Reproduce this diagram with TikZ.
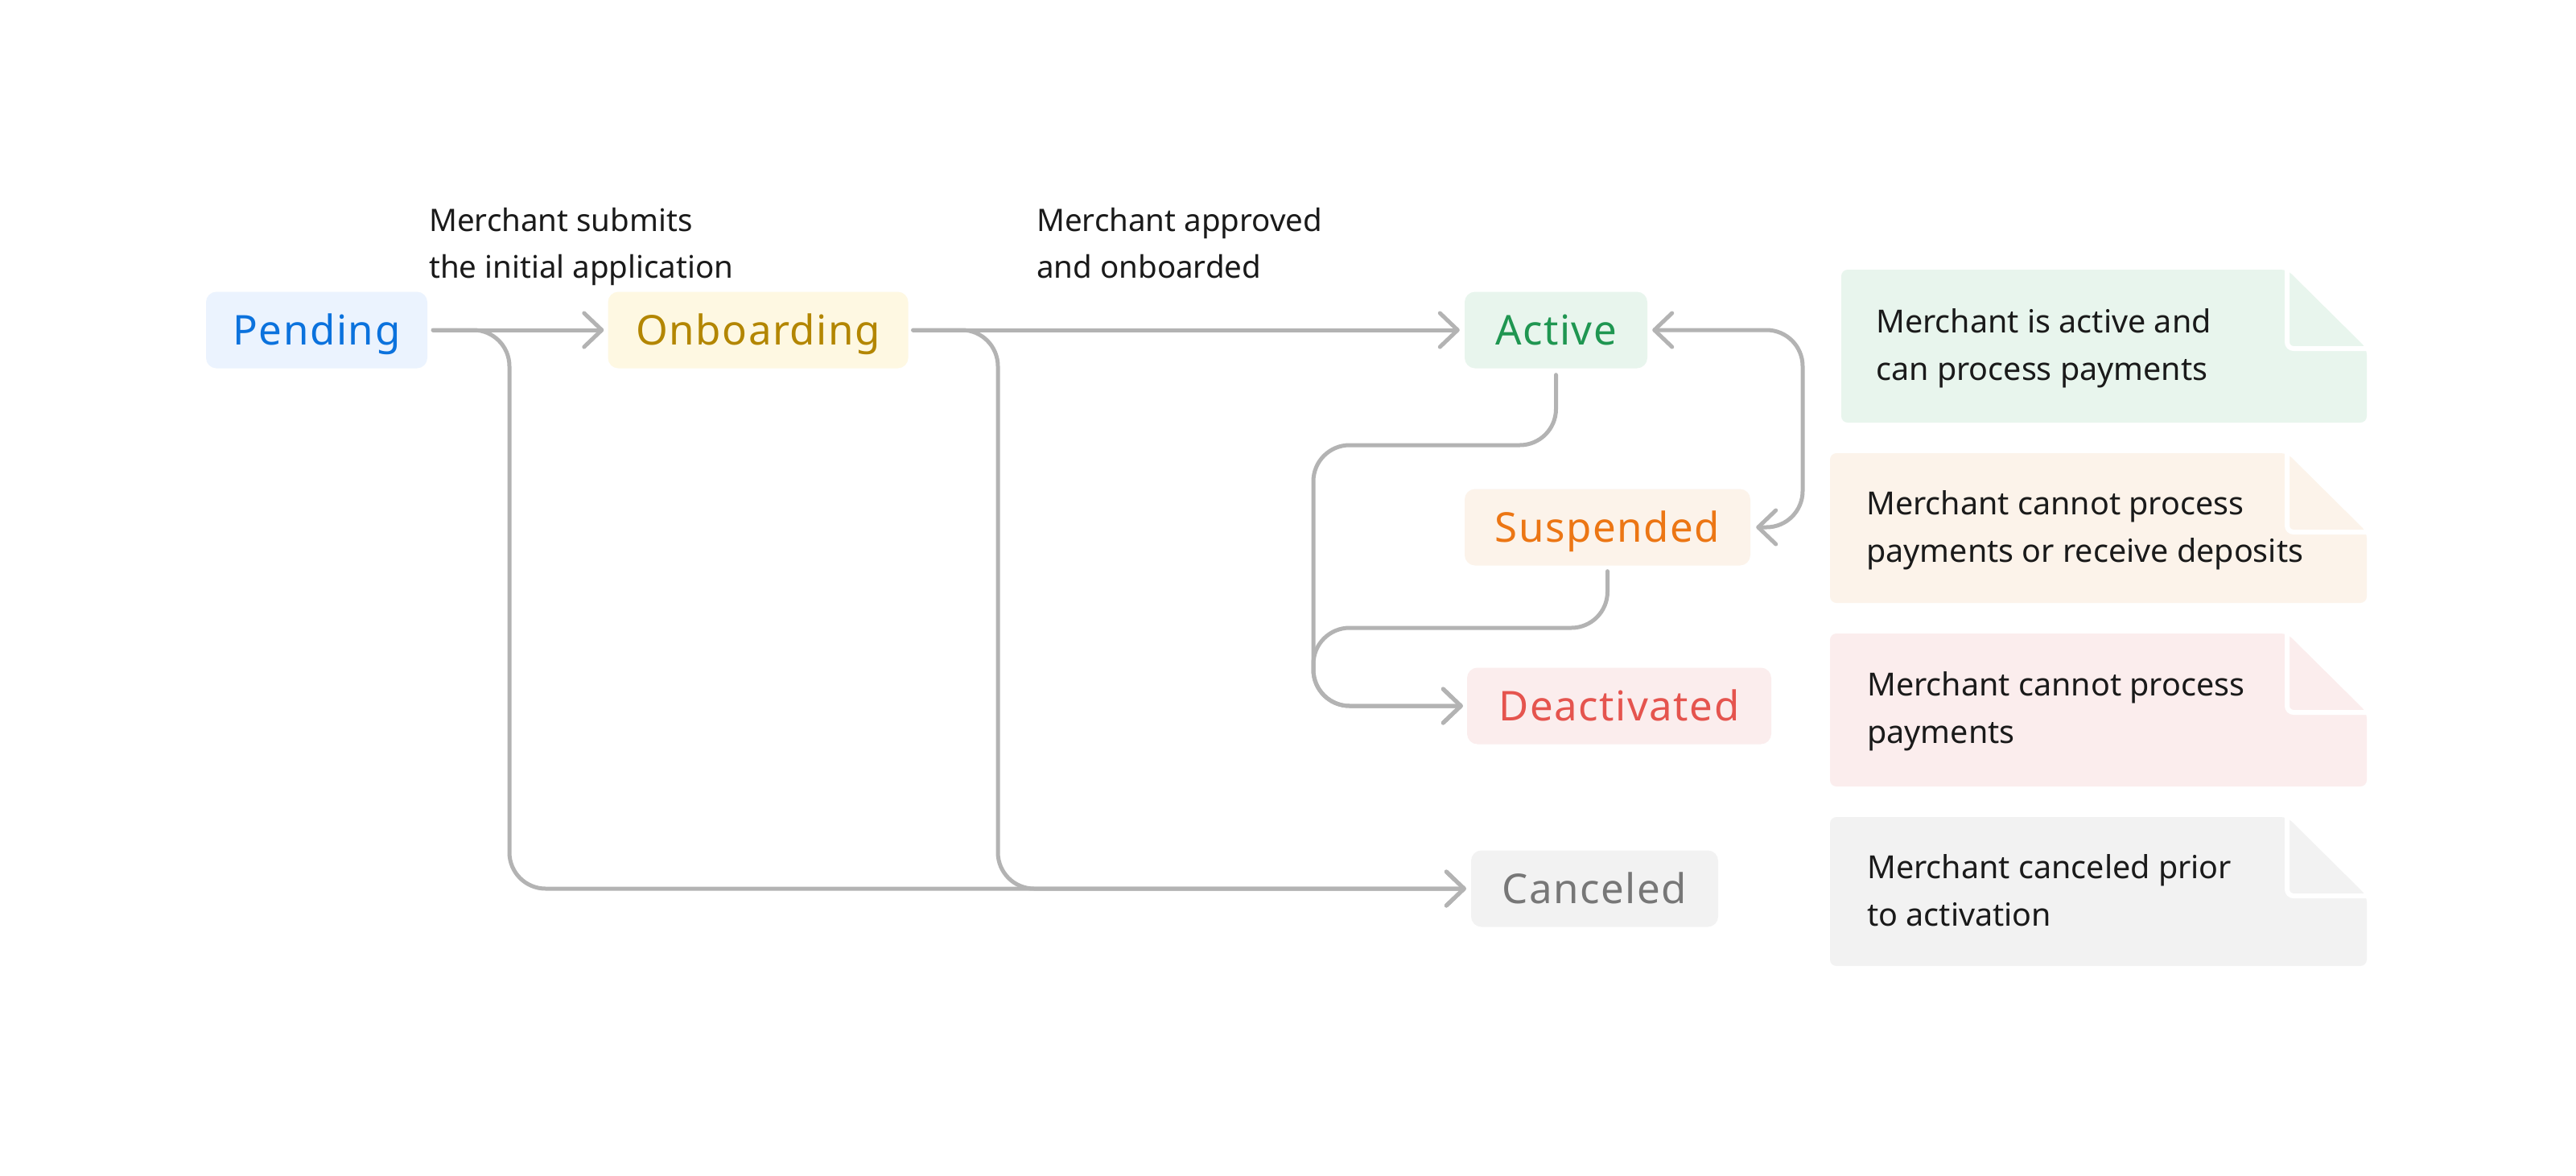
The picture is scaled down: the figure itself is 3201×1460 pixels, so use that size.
\documentclass[tikz,border=0pt]{standalone}
\usepackage{fontspec}
\setmainfont{Noto Sans}
\newfontfamily\statefont[LetterSpace=3]{Noto Sans}
\usetikzlibrary{arrows.meta}
\definecolor{linegray}{HTML}{B3B3B3}
\definecolor{ink}{HTML}{1A1A1A}
\definecolor{pendFill}{HTML}{EBF3FE}
\definecolor{pendText}{HTML}{0B72DD}
\definecolor{onbFill}{HTML}{FEF8E2}
\definecolor{onbText}{HTML}{B38600}
\definecolor{actFill}{HTML}{E8F5ED}
\definecolor{actText}{HTML}{1F9651}
\definecolor{susFill}{HTML}{FCF3EA}
\definecolor{susText}{HTML}{EC7614}
\definecolor{deaFill}{HTML}{FBEDED}
\definecolor{deaText}{HTML}{E5544E}
\definecolor{canFill}{HTML}{F2F2F2}
\definecolor{canText}{HTML}{777777}
\newcommand\drawnote[5]{%
  \fill[#5, rounded corners=8pt] (#1,#2) -- (#3-99,#2) -- (#3,#2+98) -- (#3,#4) -- (#1,#4) -- cycle;
  \draw[white, line width=6pt, rounded corners=8pt] (#3-99,#2-6) -- (#3-99,#2+98) -- (#3+6,#2+98);
}
\begin{document}
\begin{tikzpicture}[x=1pt,y=-1pt,
  state/.style={rounded corners=13pt, minimum height=95pt, inner sep=0pt,
    text height=36pt, text depth=0pt, font=\statefont\fontsize{51}{60}\selectfont},
  lbl/.style={anchor=base west, align=left, inner sep=0pt, text=ink,
    font=\fontsize{38.5}{58}\selectfont},
  notetext/.style={anchor=base west, align=left, inner sep=0pt, text=ink,
    font=\fontsize{39.5}{59}\selectfont},
  conn/.style={draw=linegray, line width=5pt, line cap=round, line join=round,
    rounded corners=45pt},
  arr/.style={-{Straight Barb[length=22pt,width=42pt,line width=5pt,round]}},
  biarr/.style={{Straight Barb[length=22pt,width=42pt,line width=5pt,round]}-{Straight Barb[length=22pt,width=42pt,line width=5pt,round]}}
]
\useasboundingbox (0,0) rectangle (3201,1460);
\fill[white] (0,0) rectangle (3201,1460);

% state nodes
\node[state, fill=pendFill, text=pendText, minimum width=275pt] (pending) at (393.5,410) {Pending};
\node[state, fill=onbFill, text=onbText, minimum width=373pt] (onboarding) at (942,410) {Onboarding};
\node[state, fill=actFill, text=actText, minimum width=227pt] (active) at (1933.5,410) {Active};
\node[state, fill=susFill, text=susText, minimum width=355pt] (suspended) at (1997.5,655) {Suspended};
\node[state, fill=deaFill, text=deaText, minimum width=378pt] (deactivated) at (2012,877) {Deactivated};
\node[state, fill=canFill, text=canText, minimum width=307pt] (canceled) at (1981.5,1104) {Canceled};

% transition labels (base anchor = baseline of the last line)
\node[lbl] (lsubmit) at (533,345) {Merchant submits\\the initial application};
\node[lbl] (lapprove) at (1288,345) {Merchant approved\\and onboarded};

% routing coordinates
\coordinate (vP) at (633,0);
\coordinate (vO) at (1240,0);
\coordinate (vD) at (1632,0);
\coordinate (vR) at (2240,0);
\coordinate (hA) at (0,553);
\coordinate (hS) at (0,780);

% connectors
\draw[conn, arr] ([xshift=7pt]pending.east) -- ([xshift=-5pt]onboarding.west);
\draw[conn, arr] ([xshift=7pt]pending.east) -- (pending.east -| vP) -- (canceled.west -| vP) -- ([xshift=-6pt]canceled.west);
\draw[conn, arr] ([xshift=6pt]onboarding.east) -- ([xshift=-6pt]active.west);
\draw[conn, arr] ([xshift=6pt]onboarding.east) -- (onboarding.east -| vO) -- (canceled.west -| vO) -- ([xshift=-6pt]canceled.west);
\draw[conn, arr] ([yshift=-8pt]active.south) -- (active.south |- hA) -- (vD |- hA) -- (vD |- deactivated.west) -- ([xshift=-5pt]deactivated.west);
\draw[conn, arr] ([yshift=-7pt]suspended.south) -- (suspended.south |- hS) -- (vD |- hS) -- (vD |- deactivated.west) -- ([xshift=-5pt]deactivated.west);
\draw[conn, biarr] ([xshift=6pt]active.east) -- (active.east -| vR) -- (suspended.east -| vR) -- ([xshift=7pt]suspended.east);

% notes
\drawnote{2288}{335}{2941}{525}{actFill}
\node[notetext] (nactive) at (2331,472) {Merchant is active and\\can process payments};
\drawnote{2274}{563}{2941}{749}{susFill}
\node[notetext] (nsuspended) at (2319,698) {Merchant cannot process\\payments or receive deposits};
\drawnote{2274}{787}{2941}{977}{deaFill}
\node[notetext] (ndeactivated) at (2320,923) {Merchant cannot process\\payments};
\drawnote{2274}{1015}{2941}{1200}{canFill}
\node[notetext] (ncanceled) at (2320,1150) {Merchant canceled prior\\to activation};
\end{tikzpicture}
\end{document}
